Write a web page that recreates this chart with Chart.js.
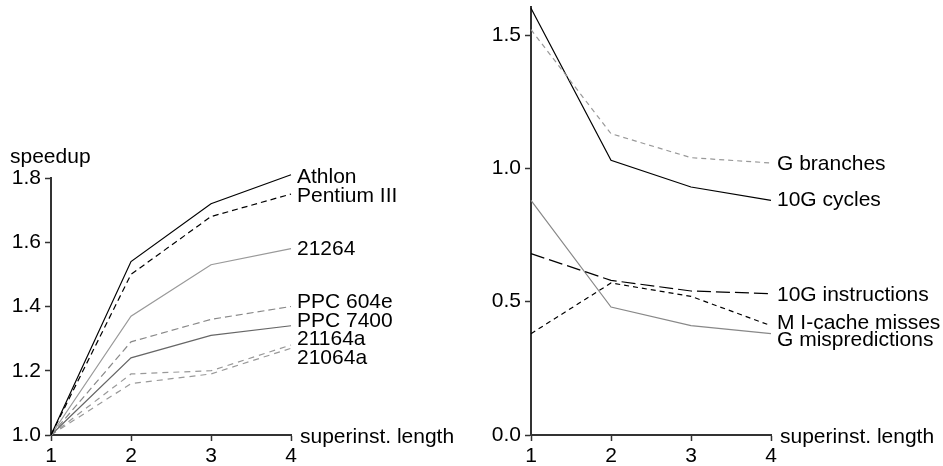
<!DOCTYPE html>
<html>
<head>
<meta charset="utf-8">
<script src="https://cdn.jsdelivr.net/npm/chart.js@4.4.1/dist/chart.umd.min.js"></script>
<style>
  body { margin: 0; background: #fff; }
  #wrap { position: relative; width: 943px; height: 466px; }
  canvas { position: absolute; top: 0; }
  #left { left: 0; }
  #right { left: 470px; }
</style>
</head>
<body>
<div id="wrap">
  <canvas id="left" width="470" height="466"></canvas>
  <canvas id="right" width="473" height="466"></canvas>
</div>
<script>
// superinstruction length on the x axis (both panels)
const lengths = ['1', '2', '3', '4'];

// left panel: speedup per CPU
const cpuNames = ['Athlon', 'Pentium III', '21264', 'PPC 604e', 'PPC 7400', '21164a', '21064a'];
const athlon = [1.0, 1.54, 1.72, 1.81];
const pentium3 = [1.0, 1.50, 1.68, 1.75];
const alpha21264 = [1.0, 1.37, 1.53, 1.58];
const ppc604e = [1.0, 1.29, 1.36, 1.40];
const ppc7400 = [1.0, 1.24, 1.31, 1.34];
const alpha21164a = [1.0, 1.19, 1.20, 1.28];
const alpha21064a = [1.0, 1.16, 1.19, 1.27];
const speedupTicks = [1.0, 1.2, 1.4, 1.6, 1.8];

// right panel: event counts
const eventNames = ['G branches', '10G cycles', '10G instructions', 'M I-cache misses', 'G mispredictions'];
const gBranches = [1.52, 1.13, 1.04, 1.02];
const cycles10G = [1.60, 1.03, 0.93, 0.88];
const instructions10G = [0.68, 0.58, 0.54, 0.53];
const icacheMissesM = [0.38, 0.57, 0.52, 0.41];
const mispredictionsG = [0.88, 0.48, 0.41, 0.38];
const countTicks = [0.0, 0.5, 1.0, 1.5];

const FONT = '"Liberation Sans", Arial, Helvetica, sans-serif';
const FONT_SIZE = 21;
const AXIS = '#333';

// writes each series name at the end of its line, plus the axis titles
const endLabels = {
    id: 'endLabels',
    afterDatasetsDraw(chart, args, opts) {
        const { ctx, chartArea } = chart;
        ctx.save();
        ctx.font = FONT_SIZE + 'px ' + FONT;
        ctx.fillStyle = '#000';
        ctx.textAlign = 'left';
        ctx.textBaseline = 'middle';
        chart.data.datasets.forEach((ds, i) => {
            const pts = chart.getDatasetMeta(i).data;
            const last = pts[pts.length - 1];
            ctx.fillText(ds.label, last.x + 6, last.y + (ds.labelNudge || 0));
        });
        ctx.fillText(opts.xTitle, chartArea.right + 9, chartArea.bottom + 2);
        if (opts.yTitle) ctx.fillText(opts.yTitle, 10, chartArea.top - 21);
        ctx.restore();
    }
};

function line(label, data, color, dash, nudge) {
    return {
        label: label,
        data: data,
        borderColor: color,
        borderWidth: 1.2,
        borderDash: dash,
        pointRadius: 0,
        tension: 0,
        fill: false,
        labelNudge: nudge
    };
}

function makeChart(id, datasets, tickValues, yMin, yMax, yWidth, pad, titles) {
    return new Chart(document.getElementById(id), {
        type: 'line',
        data: { labels: lengths, datasets: datasets },
        options: {
            responsive: false,
            animation: false,
            devicePixelRatio: 1,
            clip: false,
            layout: { padding: pad },
            scales: {
                x: {
                    offset: false,
                    afterFit: s => { s.height = 31; s.paddingLeft = 0; s.paddingRight = 0; },
                    border: { display: true, color: AXIS, width: 2 },
                    grid: { drawOnChartArea: false, drawTicks: true, tickLength: 6, tickColor: AXIS, tickWidth: 1.5, offset: false },
                    ticks: { color: '#000', font: { size: FONT_SIZE, family: FONT }, padding: 3, maxRotation: 0 }
                },
                y: {
                    min: yMin,
                    max: yMax,
                    afterFit: s => { s.width = yWidth; s.paddingTop = 0; s.paddingBottom = 0; },
                    afterBuildTicks: s => { s.ticks = tickValues.map(v => ({ value: v })); },
                    border: { display: true, color: AXIS, width: 2 },
                    grid: { drawOnChartArea: false, drawTicks: true, tickLength: 6, tickColor: AXIS, tickWidth: 1.5 },
                    ticks: { color: '#000', font: { size: FONT_SIZE, family: FONT }, padding: 4, callback: v => v.toFixed(1) }
                }
            },
            plugins: {
                legend: { display: false },
                tooltip: { enabled: false },
                endLabels: titles
            }
        },
        plugins: [endLabels]
    });
}

makeChart('left', [
    line(cpuNames[0], athlon, '#000', [], 2),
    line(cpuNames[1], pentium3, '#000', [6, 4], 2),
    line(cpuNames[2], alpha21264, '#999', [], 1),
    line(cpuNames[3], ppc604e, '#888', [7, 4], -4),
    line(cpuNames[4], ppc7400, '#666', [], -5),
    line(cpuNames[5], alpha21164a, '#999', [6, 5], -6),
    line(cpuNames[6], alpha21064a, '#999', [6, 5], 10)
], speedupTicks, 1.0, 1.8, 51, { left: 0, right: 179, top: 178, bottom: 0 },
   { xTitle: 'superinst. length', yTitle: 'speedup' });

makeChart('right', [
    line(eventNames[0], gBranches, '#999', [5, 4], 1),
    line(eventNames[1], cycles10G, '#000', [], 0),
    line(eventNames[2], instructions10G, '#000', [14, 5], 2),
    line(eventNames[3], icacheMissesM, '#000', [5, 4], -2),
    line(eventNames[4], mispredictionsG, '#888', [], 7)
], countTicks, 0.0, 1.605, 61, { left: 0, right: 172, top: 7, bottom: 0 },
   { xTitle: 'superinst. length' });
</script>
</body>
</html>
